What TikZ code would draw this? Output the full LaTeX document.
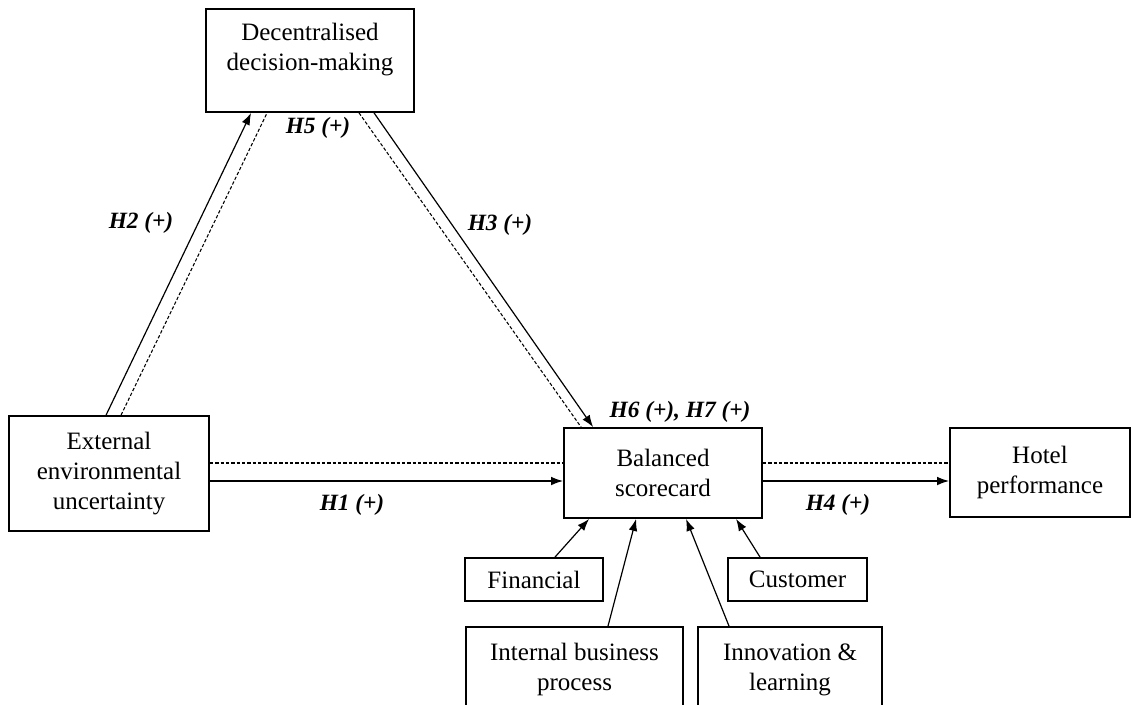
\documentclass[tikz,border=0pt]{standalone}
\usepackage{fontspec}
\setmainfont{Liberation Serif}
\usetikzlibrary{calc,arrows.meta}
\begin{document}
\begin{tikzpicture}[x=0.75pt,y=-0.75pt,
 every node/.style={font=\fontsize{18.75}{22.5}\selectfont},
 box/.style={draw,line width=1.4pt,align=center,inner sep=0pt},
 hyp/.style={font=\fontsize{17.5}{21}\selectfont\bfseries\itshape},
 arr/.style={line width=0.9pt,-{Latex[length=9pt,width=6.5pt]}},
 dsh/.style={line width=0.8pt,dash pattern=on 2.5pt off 1.5pt}]
 \clip (0,0) rectangle (1134,704);
 \node [box,minimum width=156pt,minimum height=77.25pt] (dec) at (310,60.5)
  {Decentralised\\decision-making\\[-2.6pt]\mbox{}};
 \node [box,minimum width=150pt,minimum height=86.25pt] (ext) at (109,473.5)
  {External\\environmental\\uncertainty};
 \node [box,minimum width=148.5pt,minimum height=67.5pt] (bsc) at (663,473) {Balanced\\scorecard};
 \node [box,minimum width=135pt,minimum height=66.75pt] (hotel) at (1040,472.5) {Hotel\\performance};
 \node [box,minimum width=103.5pt,minimum height=32.25pt] (fin) at (534,579.5) {Financial};
 \node [box,minimum width=104.25pt,minimum height=32.25pt] (cust) at (797.5,579.5) {Customer};
 \node [box,minimum width=162.75pt,minimum height=63.75pt] (ibp) at (574.5,669.5) {Internal business\\process};
 \node [box,minimum width=138pt,minimum height=63.75pt] (inl) at (790,669.5) {Innovation \&\\learning};
 \draw [arr] ($(ext.north west)+(98,0)$) -- ($(dec.south west)+(46,0)$);
 \draw [dsh] ($(ext.north west)+(113,0)$) -- ($(dec.south west)+(62,0)$);
 \draw [arr] ($(dec.south west)+(169,0)$) -- ($(bsc.north west)+(30,0)$);
 \draw [dsh] ($(dec.south west)+(154,0)$) -- ($(bsc.north west)+(18,0)$);
 \coordinate (h1s) at ($(ext.east)+(0,7.5)$);
 \coordinate (h1d) at ($(ext.east)+(0,-10.5)$);
 \draw [arr] (h1s) -- (h1s -| bsc.west);
 \draw [dsh] (h1d) -- (h1d -| bsc.west);
 \coordinate (h4s) at ($(bsc.east)+(0,8)$);
 \coordinate (h4d) at ($(bsc.east)+(0,-10)$);
 \draw [arr] (h4s) -- (h4s -| hotel.west);
 \draw [dsh] (h4d) -- (h4d -| hotel.west);
 \draw [arr] ($(fin.north)+(21,0)$) -- ($(bsc.south west)+(26,0)$);
 \draw [arr] ($(ibp.north)+(33.5,0)$) -- ($(bsc.south west)+(73,0)$);
 \draw [arr] ($(inl.north)+(-61,0)$) -- ($(bsc.south west)+(123,0)$);
 \draw [arr] ($(cust.north)+(-37.5,0)$) -- ($(bsc.south west)+(173,0)$);
 \node [hyp] (h5) at (318,128) {H5 (+)};
 \node [hyp] (h2) at (141,223) {H2 (+)};
 \node [hyp] (h3) at (500,225) {H3 (+)};
 \node [hyp] (h67) at (680,412) {H6 (+), H7 (+)};
 \node [hyp] (h1) at (352,505) {H1 (+)};
 \node [hyp] (h4) at (838,505) {H4 (+)};
\end{tikzpicture}
\end{document}
